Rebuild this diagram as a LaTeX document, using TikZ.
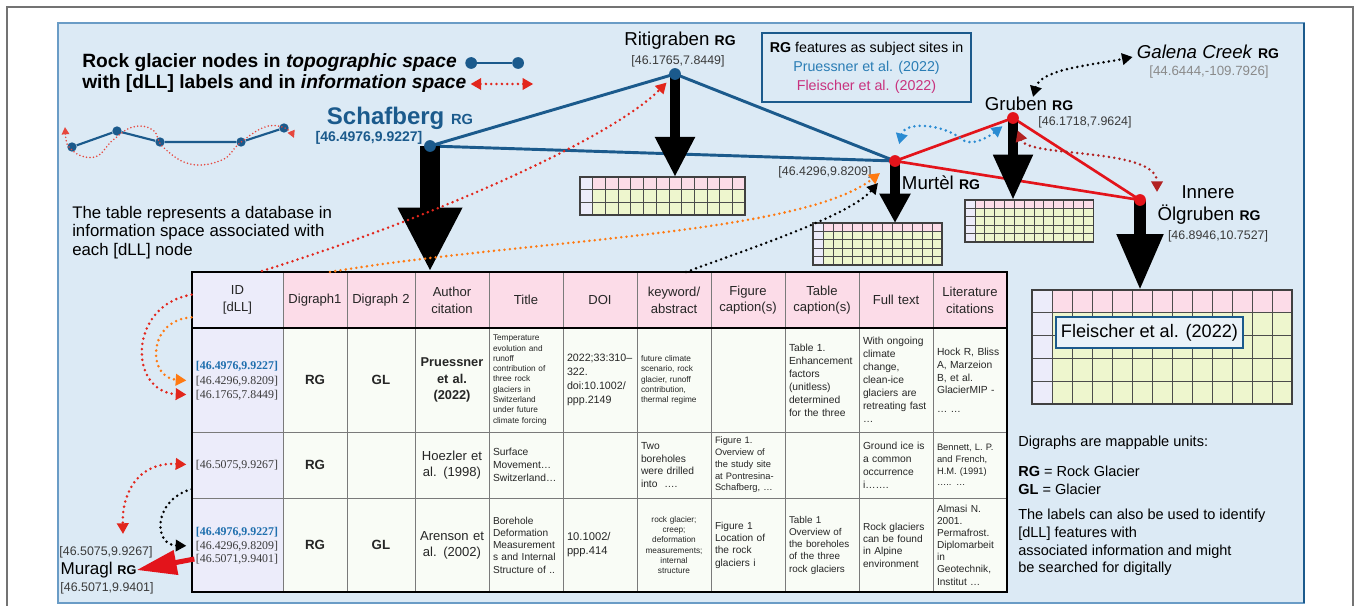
\documentclass[tikz,border=0pt]{standalone}
\usepackage{fontspec}
\setmainfont{Liberation Sans}
\newfontfamily\idfont{Liberation Serif}
\usetikzlibrary{positioning}
\usetikzlibrary{arrows.meta}

\definecolor{panelfill}{HTML}{DCEAF5}
\definecolor{panelline}{HTML}{6A9CC6}
\definecolor{rgblue}{HTML}{1B5A8C}
\definecolor{rgred}{HTML}{E3141B}
\definecolor{pruessblue}{HTML}{2A7DB5}
\definecolor{fleischpink}{HTML}{C8327E}
\definecolor{headpink}{HTML}{FCDCE8}
\definecolor{idlav}{HTML}{ECECFA}
\definecolor{bodywhite}{HTML}{F9FCF6}
\definecolor{gridyellow}{HTML}{EEF6CE}
\definecolor{coordgray}{HTML}{3A3A3A}
\definecolor{galenagray}{HTML}{8A8A8A}
\definecolor{linkred}{HTML}{E2261C}
\definecolor{linkorange}{HTML}{FF7A12}
\definecolor{linkblue}{HTML}{2A8BD2}
\definecolor{linkdarkred}{HTML}{B22222}
\definecolor{tabline}{HTML}{7A7A7A}
\definecolor{fleischbox}{HTML}{EAF2F8}
\definecolor{idbluecol}{HTML}{1F6FAE}

\newcommand{\rgtag}{{\bfseries\fontsize{10.5}{12}\selectfont RG}}

% small record table: x, y (top left), cell w, cell h, rows, name
\newcommand{\minitable}[6]{%
  \coordinate (#6) at (#1,#2);
  \fill[idlav] (#1,#2) rectangle ++(#3,#4*#5);
  \fill[headpink] (#1+#3,#2) rectangle ++(12*#3,#4);
  \fill[gridyellow] (#1+#3,#2+#4) rectangle ++(12*#3,#4*#5-#4);
  \foreach \ci in {1,...,12} \draw[minigrid] (#1+\ci*#3,#2) -- ++(0,#4*#5);
  \foreach \ri in {1,...,#5} \draw[minigrid] (#1,#2+\ri*#4) -- ++(13*#3,0);
  \draw[miniframe] (#1,#2) rectangle ++(13*#3,#4*#5);
}

\tikzset{
  bluedot/.style={circle, fill=rgblue, inner sep=0pt, minimum size=8.8pt},
  reddot/.style={circle, fill=rgred, inner sep=0pt, minimum size=8.8pt},
  smalldot/.style={circle, fill=rgblue, inner sep=0pt, minimum size=7pt},
  blueedge/.style={draw=rgblue, line width=2.2pt, line join=round},
  rededge/.style={draw=rgred, line width=2pt, line join=round},
  smalledge/.style={draw=rgblue, line width=1.6pt},
  sitename/.style={font=\fontsize{14}{16}\selectfont, inner sep=0pt},
  coordlabel/.style={font=\fontsize{9.3}{11}\selectfont, text=coordgray, inner sep=0pt},
  legendtext/.style={font=\bfseries\fontsize{14.4}{16}\selectfont, inner sep=0pt},
  note/.style={font=\fontsize{10.9}{13.5}\selectfont, inner sep=0pt, align=left},
  blockarrow/.style n args={3}{draw=black, line width=#1, -{Triangle[width=#2,length=#3]}},
  muraglarrow/.style={draw=rgred, line width=3.75pt, -{Triangle[width=18pt,length=30pt]}},
  infolink/.style={line width=2.1pt, dash pattern=on 0pt off 4pt, line cap=round},
  infored/.style={infolink, draw=linkred},
  infoorange/.style={infolink, draw=linkorange},
  infoblack/.style={infolink, draw=black},
  infoblue/.style={infolink, draw=linkblue},
  infodarkred/.style={infolink, draw=linkdarkred},
  smalllink/.style={draw=linkred!85, line width=1.3pt, dash pattern=on 0pt off 2.6pt, line cap=round},
  minigrid/.style={draw=black!70, line width=0.5pt},
  miniframe/.style={draw=black!75, line width=0.8pt},
  tabcell/.style={draw=tabline, line width=0.6pt, inner xsep=3pt, inner ysep=0pt, text=black!85},
  headcell/.style={tabcell, fill=headpink, align=center, font=\fontsize{9.8}{12.5}\selectfont},
  idcell/.style={tabcell, fill=idlav},
  bodycell/.style={tabcell, fill=bodywhite},
  idcol/.style={text width=62.25pt},
  dgacol/.style={text width=42pt},
  dgbcol/.style={text width=45pt},
  txtcol/.style={text width=49.5pt},
  hrow/.style={minimum height=42pt},
  rowa/.style={minimum height=78pt},
  rowb/.style={minimum height=49.5pt},
  rowc/.style={minimum height=70.5pt},
  cellrg/.style={align=center, font=\bfseries\fontsize{10}{12}\selectfont},
  cellauthor/.style={align=center, font=\fontsize{9.8}{12}\selectfont},
  cellauthorbold/.style={align=center, font=\bfseries\fontsize{9.6}{12.5}\selectfont},
  celltext/.style={align=left, font=\fontsize{7.7}{9.7}\selectfont},
  cellsmall/.style={align=left, font=\fontsize{7}{8.8}\selectfont},
  celltiny/.style={align=left, font=\fontsize{6.2}{7.7}\selectfont},
  idtxt/.style={font=\idfont\fontsize{8.9}{10}\selectfont, text=coordgray, inner sep=0pt},
  idblue/.style={font=\idfont\bfseries\fontsize{8.9}{10}\selectfont, text=idbluecol},
}

\begin{document}
\begin{tikzpicture}[x=0.75pt, y=-0.75pt, >={Triangle[width=8.5pt,length=8pt]}]
\useasboundingbox (0,0) rectangle (1356,606);
\fill[white] (0,0) rectangle (1356,606);
\draw[black!55, line width=0.8pt] (7,7) rectangle (1353,620);
\draw[panelline, fill=panelfill, line width=0.8pt] (58,23) rectangle (1304,603);
\draw[rgblue, line width=1.5pt] (1304,23) -- (1304,603);

% site positions
\coordinate (schafberg) at (430,146);
\coordinate (ritigraben) at (675,74);
\coordinate (murtel) at (895,161);
\coordinate (gruben) at (1013,118);
\coordinate (olgruben) at (1140,200);

% small tables under the sites
\minitable{580}{177}{12.69}{12.67}{3}{ritab}
\minitable{813}{223}{9.92}{8.4}{5}{murtab}
\minitable{965}{200}{9.85}{8.4}{5}{grubtab}
\minitable{1032}{290}{20}{22.8}{5}{olgtab}
\node[draw=rgblue, line width=1.8pt, fill=fleischbox, minimum width=140pt, minimum height=23pt,
      inner sep=0pt, font=\fontsize{13.6}{15}\selectfont] (fleischerbox) at (1149.5,332.5) {Fleischer et al. (2022)};

% main table: header
\node[idcell, idcol, hrow, align=center, font=\fontsize{9.8}{12.5}\selectfont] (idhead) at (237.5,300) {ID\\{[dLL]}};
\node[headcell, dgacol, hrow] (dgahead) at (315,300) {Digraph1};
\node[headcell, dgbcol, hrow] (dgbhead) at (381,300) {Digraph 2};
\node[headcell, txtcol, hrow] (authhead) at (452,300) {Author\\citation};
\node[headcell, txtcol, hrow] (titlehead) at (526,300) {Title};
\node[headcell, txtcol, hrow] (doihead) at (600,300) {DOI};
\node[headcell, txtcol, hrow] (keyhead) at (674,300) {keyword/\\abstract};
\node[headcell, txtcol, hrow] (fighead) at (748,300) {Figure\\caption(s)};
\node[headcell, txtcol, hrow] (tabhead) at (822,300) {Table\\caption(s)};
\node[headcell, txtcol, hrow] (fullhead) at (896,300) {Full text};
\node[headcell, txtcol, hrow] (lithead) at (970,300) {Literature\\citations};

% row 1
\node[idcell, idcol, rowa] (idcell1) at (237.5,380) {};
\node[bodycell, dgacol, rowa, cellrg] (dga1) at (315,380) {RG};
\node[bodycell, dgbcol, rowa, cellrg] (dgb1) at (381,380) {GL};
\node[bodycell, txtcol, rowa, cellauthorbold] (auth1) at (452,380) {Pruessner\\et al.\\(2022)};
\node[bodycell, txtcol, rowa, celltiny] (title1) at (526,380) {Temperature\\evolution and\\runoff\\contribution of\\three rock\\glaciers in\\Switzerland\\under future\\climate forcing};
\node[bodycell, txtcol, rowa, celltext, font=\fontsize{8}{10.4}\selectfont] (doi1) at (600,380) {2022;33:310–\\322.\\doi:10.1002/\\ppp.2149};
\node[bodycell, txtcol, rowa, celltiny] (key1) at (674,380) {future climate\\scenario, rock\\glacier, runoff\\contribution,\\thermal regime};
\node[bodycell, txtcol, rowa] (fig1) at (748,380) {};
\node[bodycell, txtcol, rowa, celltext] (tab1) at (822,380) {Table 1.\\Enhancement\\factors\\(unitless)\\determined\\for the three};
\node[bodycell, txtcol, rowa, celltext] (full1) at (896,380) {With ongoing\\climate\\change,\\clean-ice\\glaciers are\\retreating fast\\…};
\node[bodycell, txtcol, rowa, celltext] (lit1) at (970,380) {Hock R, Bliss\\A, Marzeion\\B, et al.\\GlacierMIP -\\[4pt]… …};

% row 2
\node[idcell, idcol, rowb] (idcell2) at (237.5,465) {};
\node[bodycell, dgacol, rowb, cellrg] (dga2) at (315,465) {RG};
\node[bodycell, dgbcol, rowb] (dgb2) at (381,465) {};
\node[bodycell, txtcol, rowb, cellauthor] (auth2) at (452,465) {Hoezler et\\al. (1998)};
\node[bodycell, txtcol, rowb, celltext] (title2) at (526,465) {Surface\\Movement…\\Switzerland…};
\node[bodycell, txtcol, rowb] (doi2) at (600,465) {};
\node[bodycell, txtcol, rowb, celltext] (key2) at (674,465) {Two\\boreholes\\were drilled\\into \ ….};
\node[bodycell, txtcol, rowb, cellsmall] (fig2) at (748,465) {Figure 1.\\Overview of\\the study site\\at Pontresina-\\Schafberg, …};
\node[bodycell, txtcol, rowb] (tab2) at (822,465) {};
\node[bodycell, txtcol, rowb, celltext] (full2) at (896,465) {Ground ice is\\a common\\occurrence\\i…….};
\node[bodycell, txtcol, rowb, cellsmall] (lit2) at (970,465) {Bennett, L. P.\\and French,\\H.M. (1991)\\….. …};

% row 3
\node[idcell, idcol, rowc] (idcell3) at (237.5,545) {};
\node[bodycell, dgacol, rowc, cellrg] (dga3) at (315,545) {RG};
\node[bodycell, dgbcol, rowc, cellrg] (dgb3) at (381,545) {GL};
\node[bodycell, txtcol, rowc, cellauthor] (auth3) at (452,545) {Arenson et\\al. (2002)};
\node[bodycell, txtcol, rowc, celltext, font=\fontsize{7.6}{9.2}\selectfont] (title3) at (526,545) {Borehole\\Deformation\\Measurement\\s and Internal\\Structure of ..};
\node[bodycell, txtcol, rowc, celltext, font=\fontsize{8.4}{10.4}\selectfont] (doi3) at (600,545) {10.1002/\\ppp.414};
\node[bodycell, txtcol, rowc, celltiny, align=center] (key3) at (674,545) {rock glacier;\\creep;\\deformation\\measurements;\\internal\\structure};
\node[bodycell, txtcol, rowc, celltext, font=\fontsize{7.6}{9.2}\selectfont] (fig3) at (748,545) {Figure 1\\Location of\\the rock\\glaciers i};
\node[bodycell, txtcol, rowc, celltext, font=\fontsize{7.4}{9.2}\selectfont] (tab3) at (822,545) {Table 1\\Overview of\\the boreholes\\of the three\\rock glaciers};
\node[bodycell, txtcol, rowc, celltext, font=\fontsize{7.6}{9.2}\selectfont] (full3) at (896,545) {Rock glaciers\\can be found\\in Alpine\\environment};
\node[bodycell, txtcol, rowc, celltext, font=\fontsize{7.6}{9.1}\selectfont] (lit3) at (970,545) {Almasi N.\\2001.\\Permafrost.\\Diplomarbeit\\in\\Geotechnik,\\Institut …};

\draw[line width=1.4pt] (idhead.south west) -- (lithead.south east);
\draw[line width=1.5pt] (idhead.north west) rectangle (lit3.south east);

% [dLL] labels in the ID column
\node[idtxt, idblue] (id1a) at (237,366) {[46.4976,9.9227]};
\node[idtxt] (id1b) at (237,381) {[46.4296,9.8209]};
\node[idtxt] (id1c) at (237,395) {[46.1765,7.8449]};
\node[idtxt] (id2) at (237,465) {[46.5075,9.9267]};
\node[idtxt, idblue] (id3a) at (237,532) {[46.4976,9.9227]};
\node[idtxt] (id3b) at (237,546) {[46.4296,9.8209]};
\node[idtxt] (id3c) at (237,559) {[46.5071,9.9401]};

% topographic space
\draw[blueedge] (schafberg) -- (ritigraben) -- (murtel) -- cycle;
\draw[rededge] (murtel) -- (gruben) -- (olgruben) -- cycle;
\draw[blockarrow={15pt}{45pt}{48pt}] (schafberg) -- (schafberg |- idhead.north);
\draw[blockarrow={8pt}{28pt}{30pt}] (ritigraben) -- (ritigraben |- ritab);
\draw[blockarrow={7pt}{22pt}{22pt}] (murtel) -- (murtel |- murtab);
\draw[blockarrow={7.5pt}{28pt}{34pt}] (gruben) -- (gruben |- grubtab);
\draw[blockarrow={8.5pt}{33pt}{42pt}] (olgruben) -- (olgruben |- olgtab);
\node[bluedot] (schafbergdot) at (schafberg) {};
\node[bluedot] (ritigrabendot) at (ritigraben) {};
\node[reddot] (murteldot) at (murtel) {};
\node[reddot] (grubendot) at (gruben) {};
\node[reddot] (olgrubendot) at (olgruben) {};

% site labels
\node[inner sep=0pt, text=rgblue, font=\bfseries\fontsize{18}{20}\selectfont] (schafname) at (400,118) {Schafberg {\fontsize{11}{12}\selectfont RG}};
\node[coordlabel, text=rgblue, font=\bfseries\fontsize{10.5}{12}\selectfont] (schafcoord) at (369,138) {[46.4976,9.9227]};
\node[sitename] (ritiname) at (680,41) {Ritigraben \rgtag};
\node[coordlabel] (riticoord) at (678,61) {[46.1765,7.8449]};
\node[coordlabel] (murtelcoord) at (825,172) {[46.4296,9.8209]};
\node[sitename] (murtelname) at (941,183) {Murtèl \rgtag};
\node[sitename] (grubenname) at (1029,104) {Gruben \rgtag};
\node[coordlabel] (grubencoord) at (1085,122) {[46.1718,7.9624]};
\node[sitename] (galenaname) at (1208,52) {\textit{Galena Creek} \rgtag};
\node[coordlabel, text=galenagray, font=\fontsize{10}{12}\selectfont] (galenacoord) at (1209,72) {[44.6444,-109.7926]};
\node[sitename] (innerename) at (1208,192) {Innere};
\node[sitename] (olgrubenname) at (1209,215) {Ölgruben \rgtag};
\node[coordlabel] (olgrubencoord) at (1218,236) {[46.8946,10.7527]};
\node[coordlabel] (muraglA) at (106,552) {[46.5075,9.9267]};
\node[sitename, font=\fontsize{12.8}{14}\selectfont] (muraglname) at (98.5,570) {Muragl {\bfseries\fontsize{9.5}{11}\selectfont RG}};
\node[coordlabel] (muraglB) at (107,588) {[46.5071,9.9401]};

% legend, top left
\node[legendtext, anchor=west] (legtopo) at (82,63) {Rock glacier nodes in \textit{topographic space}};
\node[legendtext, anchor=west] (leginfo) at (82,84) {with [dLL] labels and in \textit{information space}};
\node[bluedot, right=6pt of legtopo] (legdotA) {};
\node[bluedot, right=26pt of legdotA] (legdotB) {};
\draw[blueedge] (legdotA) -- (legdotB);
\coordinate[right=3pt of leginfo] (legarrA);
\coordinate[right=47pt of legarrA] (legarrB);
\draw[infored, <->] (legarrA) -- (legarrB);

% small example graph
\node[smalldot] (g1) at (72,147) {};
\node[smalldot] (g2) at (117,131) {};
\node[smalldot] (g3) at (160,142) {};
\node[smalldot] (g4) at (241,142) {};
\node[smalldot] (g5) at (284,128) {};
\draw[smalledge] (g1) -- (g2) -- (g3) -- (g4) -- (g5);
\draw[smalllink, >={Triangle[width=5.5pt,length=5.5pt]}, <->] plot[smooth, tension=0.7] coordinates
  {(65,127) (72,150) (95,157) (113,140) (133,127) (153,130) (163,147) (190,164) (222,160) (240,143) (265,127) (285,128) (294,138)};

% notes
\node[inner sep=0pt, align=left, anchor=west, font=\fontsize{12.6}{13.9}\selectfont] (tablenote) at (72,232.5)
  {The table represents a database in\\information space associated with\\each [dLL] node};
\node[draw=rgblue, line width=1.6pt, minimum width=156.75pt, minimum height=51.75pt, inner sep=0pt,
      align=center, font=\fontsize{10.7}{14.2}\selectfont] (subjectbox) at (866.5,67.5)
  {\textbf{RG} features as subject sites in\\\textcolor{pruessblue}{Pruessner et al. (2022)}\\\textcolor{fleischpink}{Fleischer et al. (2022)}};
\node[note, anchor=west] (digraphnote) at (1018,443) {Digraphs are mappable units:};
\node[note, anchor=west] (codenote) at (1018,480) {\textbf{RG} = Rock Glacier\\\textbf{GL} = Glacier};
\node[note, anchor=west, font=\fontsize{10.9}{13.3}\selectfont] (labelnote) at (1018,542.5)
  {The labels can also be used to identify\\{[dLL]} features with\\associated information and might\\be searched for digitally};

% links in information space
\coordinate (redlinkstart) at (262,271);
\coordinate (orangelinkstart) at (330,272);
\coordinate (blacklinkstart) at (686,272);
\draw[infored, ->, shorten >=9pt] (redlinkstart) .. controls (450,212) and (615,135) .. (ritigrabendot.center);
\draw[infoorange, ->] (orangelinkstart) .. controls (520,240) and (800,235) .. ([shift={(-15,12)}]murteldot.center);
\draw[infoblack, ->] (blacklinkstart) .. controls (760,245) and (850,215) .. ([shift={(-17,22)}]murteldot.center);
\draw[infored, ->, shorten >=7pt] ([yshift=4pt]idhead.west) .. controls (128,305) and (128,392) .. (id1c.west);
\draw[infoorange, ->, shorten >=7pt] ([yshift=-13pt]idhead.west) .. controls (147,320) and (147,378) .. (id1b.west);
\draw[infored, <->, shorten <=7pt] (id2.west) .. controls (140,462) and (122,490) .. ([shift={(17,-12)}]muraglA.north);
\draw[infoblack, ->, shorten >=7pt] ([yshift=7pt]idcell2.south west) .. controls (153,500) and (153,545) .. (id3b.west);
\draw[muraglarrow] ([xshift=-1pt]id3c.west) -- (muraglname.east);
\draw[infoblue, <->, shorten <=13pt, shorten >=10pt] (murteldot.center) .. controls +(10,-40) and +(-18,-14) .. (960,138)
  .. controls +(12,12) and +(-18,14) .. (grubendot.center);
\draw[infodarkred, <->, shorten <=10pt] (grubendot.center) .. controls +(15,40) and +(0,-45) .. ([shift={(17,-8)}]olgrubendot.center);
\draw[infoblack, <->] ([xshift=3pt]grubenname.north) .. controls +(8,-28) and +(-40,8) .. ([shift={(-4,5)}]galenaname.west);
\end{tikzpicture}
\end{document}
